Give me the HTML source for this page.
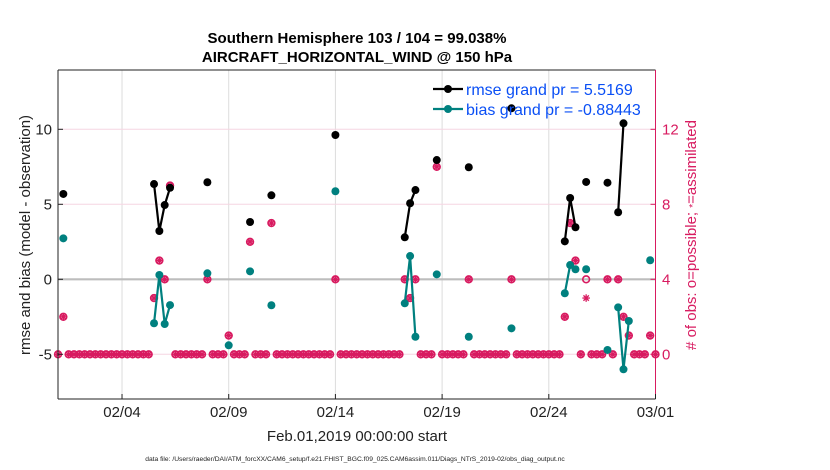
<!DOCTYPE html>
<html><head><meta charset="utf-8">
<style>
html,body{margin:0;padding:0;background:#fff;}
svg{display:block;font-family:"Liberation Sans",Arial,sans-serif;}
</style></head>
<body>
<svg id="chart" width="830" height="470" viewBox="0 0 830 470" xmlns="http://www.w3.org/2000/svg">
  <text x="357" y="43" text-anchor="middle" font-size="15" font-weight="bold">Southern Hemisphere 103 / 104 = 99.038%</text>
  <text x="357" y="62" text-anchor="middle" font-size="15" font-weight="bold">AIRCRAFT_HORIZONTAL_WIND @ 150 hPa</text>
  <g id="grid"></g>
  <g id="marks"></g>
  <g id="axes"></g>
  <text transform="translate(30,235) rotate(-90)" text-anchor="middle" font-size="15" fill="#222">rmse and bias (model - observation)</text>
  <text transform="translate(696,235) rotate(-90)" text-anchor="middle" font-size="15" fill="#d81b60"># of obs: o=possible; <tspan font-size="10">*</tspan>=assimilated</text>
  <text x="357" y="441" text-anchor="middle" font-size="15" fill="#222">Feb.01,2019 00:00:00 start</text>
  <text x="355" y="461" text-anchor="middle" font-size="6.7" fill="#222">data file: /Users/raeder/DAI/ATM_forcXX/CAM6_setup/f.e21.FHIST_BGC.f09_025.CAM6assim.011/Diags_NTrS_2019-02/obs_diag_output.nc</text>
  <g id="legend"></g>
</svg>
<script>
// ---- data (slot index = 6-hourly bins from Feb 01 00Z) ----
const slotCount = 113;
const rmseSlots = [1,18,19,20,21,28,36,40,52,65,66,67,71,77,85,95,96,97,99,103,105,106];
const rmseVals  = [5.69,6.35,3.22,4.95,6.1,6.47,3.82,5.6,9.62,2.8,5.07,5.95,7.95,7.47,11.4,2.53,5.42,3.47,6.49,6.44,4.47,10.4];
const biasSlots = [1,18,19,20,21,28,32,36,40,52,65,66,67,71,77,85,95,96,97,99,103,105,106,107,111];
const biasVals  = [2.73,-2.93,0.29,-2.98,-1.72,0.4,-4.4,0.53,-1.73,5.87,-1.6,1.55,-3.83,0.33,-3.83,-3.27,-0.93,0.95,0.67,0.67,-4.71,-1.87,-6.0,-2.78,1.27];
const countSlots = [1,18,19,20,21,28,32,36,40,52,65,66,67,71,77,85,95,96,97,99,103,105,106,107,111];
const possibleVals = [2,3,5,4,9,4,1,6,7,4,4,3,4,10,4,4,2,7,5,4,4,4,2,1,1];
const usedVals     = [2,3,5,4,9,4,1,6,7,4,4,3,4,10,4,4,2,7,5,3,4,4,2,1,1];
const xTickDays = [3,8,13,18,23,28];
const xTickLabels = ["02/04","02/09","02/14","02/19","02/24","03/01"];
const yTicks = [-5,0,5,10];
const y2Ticks = [0,4,8,12];

// ---- axes functions ----
const L=58,R=655.5,T=70,B=399;
const xDay = d => L + d*(R-L)/28;
const xSlot = s => xDay(s/4);
const yL = v => 279.3 - v*15;
const yR = c => yL(c/0.8 - 5);
const NS="http://www.w3.org/2000/svg";
function mk(tag, attrs, parent){const e=document.createElementNS(NS,tag);for(const k in attrs)e.setAttribute(k,attrs[k]);parent.appendChild(e);return e;}
const grid=document.getElementById('grid'), marks=document.getElementById('marks'), axes=document.getElementById('axes'), legend=document.getElementById('legend');
const RED="#d81b60", TEAL="#00807f";

xTickDays.forEach((d,i)=>{
  const g=mk('line',{x1:xDay(d),x2:xDay(d),y1:T,y2:B,stroke:'#dcdcdc','stroke-width':1},grid);
  
  
});
y2Ticks.forEach(c=>{
  const g=mk('line',{x1:L,x2:R,y1:yR(c),y2:yR(c),stroke:'#f6d6e2','stroke-width':1},grid);
  
  
});
const zl=mk('line',{x1:L,x2:R,y1:yL(0),y2:yL(0),stroke:'#bdbdbd','stroke-width':2.2},grid);



function countMarker(x,y,circle,star){
  const g=mk('g',{},marks);
  
  
  if(circle) mk('circle',{cx:x,cy:y,r:3.4,fill:'none',stroke:RED,'stroke-width':1.6},g);
  if(star){
    const r=3.8;
    for(let a=0;a<180;a+=45){const t=a*Math.PI/180;
      mk('line',{x1:x-r*Math.cos(t),y1:y-r*Math.sin(t),x2:x+r*Math.cos(t),y2:y+r*Math.sin(t),stroke:RED,'stroke-width':1.3},g);}
  }
}
for(let s=0;s<slotCount;s++){
  const k=countSlots.indexOf(s);
  if(k<0){countMarker(xSlot(s),yR(0),true,true);}
  else{
    const p=possibleVals[k], u=usedVals[k];
    countMarker(xSlot(s),yR(p),true,p===u);
    if(p!==u) countMarker(xSlot(s),yR(u),false,true);
  }
}

function series(slots,vals,color,name){
  let seg=[];
  const flush=()=>{ if(seg.length>1){const pl=mk('polyline',{points:seg.map(p=>p.join(',')).join(' '),fill:'none',stroke:color,'stroke-width':2.2},marks);
      
      } seg=[]; };
  slots.forEach((s,i)=>{
    if(i>0 && s!==slots[i-1]+1) flush();
    seg.push([xSlot(s),yL(vals[i])]);
  });
  flush();
  slots.forEach((s,i)=>{
    const c=mk('circle',{cx:xSlot(s),cy:yL(vals[i]),r:4,fill:color},marks);
    
    
  });
}
series(biasSlots,biasVals,TEAL,'bias');
series(rmseSlots,rmseVals,'#000','rmse');

const lf=mk('line',{x1:L,x2:L,y1:T,y2:B,stroke:'#222','stroke-width':1},axes);
 
const bf=mk('line',{x1:L,x2:R,y1:B,y2:B,stroke:'#222','stroke-width':1},axes);
 
const tf=mk('line',{x1:L,x2:R,y1:T,y2:T,stroke:'#222','stroke-width':1},axes);
 
const rf=mk('line',{x1:R,x2:R,y1:T,y2:B,stroke:RED,'stroke-width':1},axes);
 

xTickDays.forEach((d,i)=>{
  mk('line',{x1:xDay(d),x2:xDay(d),y1:B,y2:B-5,stroke:'#222'},axes);
  const t=mk('text',{x:xDay(d),y:417,'text-anchor':'middle','font-size':15,fill:'#222'},axes);
  t.textContent=xTickLabels[i];
  
  
});
yTicks.forEach(v=>{
  mk('line',{x1:L,x2:L+5,y1:yL(v),y2:yL(v),stroke:'#222'},axes);
  const t=mk('text',{x:52,y:yL(v)+5,'text-anchor':'end','font-size':15,fill:'#222'},axes);
  t.textContent=String(v);
  
  
});
y2Ticks.forEach(c=>{
  mk('line',{x1:R,x2:R-5,y1:yR(c),y2:yR(c),stroke:RED},axes);
  const t=mk('text',{x:662,y:yR(c)+5,'font-size':15,fill:RED},axes);
  t.textContent=String(c);
  
  
});

[[89,'#000','rmse grand pr = 5.5169','legend-rmse'],[109,TEAL,'bias grand pr = -0.88443','legend-bias']].forEach(([y,c,txt,nm])=>{
  const g=mk('g',{},legend);
  
  
  mk('line',{x1:433,x2:463,y1:y,y2:y,stroke:c,'stroke-width':2.2},g);
  mk('circle',{cx:448,cy:y,r:4,fill:c},g);
  const t=mk('text',{x:466,y:y+6,'font-size':16,fill:'#0a4ff5'},g);
  t.textContent=txt;
});
</script>
</body></html>
